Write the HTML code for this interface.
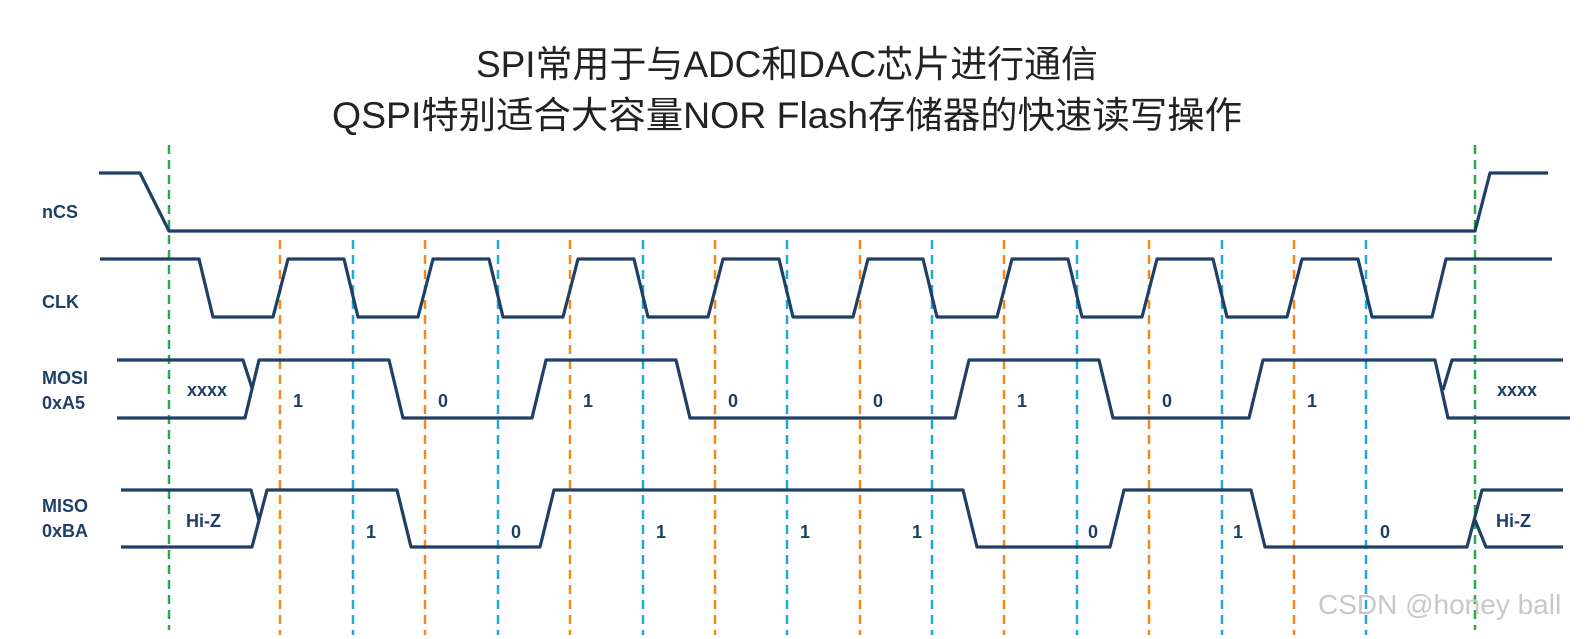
<!DOCTYPE html>
<html><head><meta charset="utf-8"><style>
html,body{margin:0;padding:0;background:#fff;}
svg{display:block;}
</style></head><body>
<svg width="1587" height="639" viewBox="0 0 1587 639" xmlns="http://www.w3.org/2000/svg">
<g font-family="'Liberation Sans','Noto Sans CJK SC',sans-serif" fill="#222">
<text x="476" y="77" font-size="37" textLength="622" lengthAdjust="spacingAndGlyphs">SPI常用于与ADC和DAC芯片进行通信</text>
<text x="332" y="128" font-size="37" textLength="910" lengthAdjust="spacingAndGlyphs">QSPI特别适合大容量NOR Flash存储器的快速读写操作</text>
</g>
<g stroke-width="2.5" stroke-dasharray="9,6" fill="none">
<line x1="169" y1="145" x2="169" y2="630" stroke="#2aa84a"/>
<line x1="1475" y1="145" x2="1475" y2="630" stroke="#2aa84a"/>
<g stroke="#f08a1c">
<line x1="280" y1="240" x2="280" y2="635"/><line x1="425" y1="240" x2="425" y2="635"/>
<line x1="570" y1="240" x2="570" y2="635"/><line x1="715" y1="240" x2="715" y2="635"/>
<line x1="860" y1="240" x2="860" y2="635"/><line x1="1004" y1="240" x2="1004" y2="635"/>
<line x1="1149" y1="240" x2="1149" y2="635"/><line x1="1294" y1="240" x2="1294" y2="635"/>
</g>
<g stroke="#1fa8d8">
<line x1="353" y1="240" x2="353" y2="635"/><line x1="498" y1="240" x2="498" y2="635"/>
<line x1="643" y1="240" x2="643" y2="635"/><line x1="787" y1="240" x2="787" y2="635"/>
<line x1="932" y1="240" x2="932" y2="635"/><line x1="1077" y1="240" x2="1077" y2="635"/>
<line x1="1222" y1="240" x2="1222" y2="635"/><line x1="1366" y1="240" x2="1366" y2="635"/>
</g>
</g>
<g stroke="#1e3f66" stroke-width="3.2" fill="none" stroke-linejoin="round">
<polyline points="99,173 140,173 169,231 1475,231 1490,173 1548,173"/>
<polyline points="100,259 199,259 213,317 273,317 288,259 344,259 358,317 418,317 433,259 489,259 503,317 563,317 578,259 634,259 648,317 708,317 723,259 779,259 793,317 853,317 868,259 923,259 937,317 997,317 1012,259 1068,259 1082,317 1142,317 1157,259 1213,259 1227,317 1287,317 1302,259 1358,259 1372,317 1432,317 1446,259 1552,259"/>
<polyline points="117,360 243,360 252,388"/>
<polyline points="117,418 245,418 259,360 389,360 403,418 532,418 546,360 676,360 690,418 955,418 969,360 1099,360 1113,418 1249,418 1263,360 1435,360 1448,418 1570,418"/>
<polyline points="1443,390 1452,360 1563,360"/>
<polyline points="121,490 251,490 259,520"/>
<polyline points="121,547 252,547 267,490 397,490 411,547 540,547 554,490 963,490 977,547 1110,547 1124,490 1251,490 1265,547 1467,547 1482,490 1563,490"/>
<polyline points="1475,520 1486,547 1563,547"/>
</g>
<g font-family="'Liberation Sans',sans-serif" font-weight="bold" font-size="18" fill="#1e3f66">
<text x="42" y="218">nCS</text>
<text x="42" y="308">CLK</text>
<text x="42" y="384">MOSI</text>
<text x="42" y="409">0xA5</text>
<text x="42" y="512">MISO</text>
<text x="42" y="537">0xBA</text>
<text x="187" y="396">xxxx</text>
<text x="1497" y="396">xxxx</text>
<text x="186" y="527">Hi-Z</text>
<text x="1496" y="527">Hi-Z</text>
<text x="293" y="407">1</text><text x="438" y="407">0</text><text x="583" y="407">1</text><text x="728" y="407">0</text>
<text x="873" y="407">0</text><text x="1017" y="407">1</text><text x="1162" y="407">0</text><text x="1307" y="407">1</text>
<text x="366" y="538">1</text><text x="511" y="538">0</text><text x="656" y="538">1</text><text x="800" y="538">1</text>
<text x="912" y="538">1</text><text x="1088" y="538">0</text><text x="1233" y="538">1</text><text x="1380" y="538">0</text>
</g>
<text x="1318" y="614" font-family="'Liberation Sans',sans-serif" font-size="28" fill="#c8c8c8">CSDN @honey ball</text>
</svg>
</body></html>
